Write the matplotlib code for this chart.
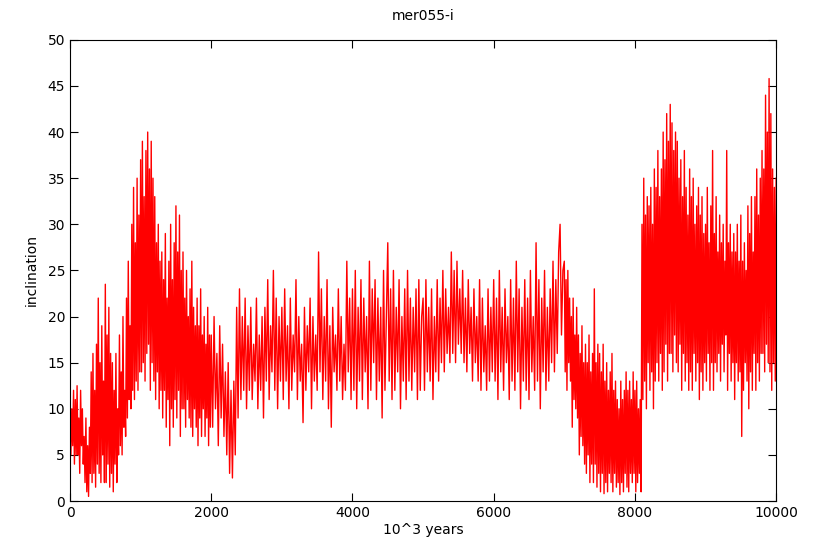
import matplotlib
matplotlib.use("Agg")
import matplotlib.pyplot as plt
import numpy as np

# inclination values
# 0-2000: one value every 12.5 (10^3 years)
seg0 = [8, 5, 10, 6, 12, 4, 11, 5, 12.5, 5, 9, 3, 12, 6, 10, 4,
        7, 2, 9, 1, 6, 0.5, 8, 3, 14, 2, 16, 3, 12, 1.5, 17, 4,
        22, 3, 15, 2, 19, 5, 13, 2, 23.5, 2, 18, 4, 21, 1.5, 16, 3,
        15, 1, 12, 4, 16, 2, 10, 5, 18, 6, 14, 5, 20, 8, 12, 7,
        22, 9, 26, 11, 19, 10, 30, 12, 34, 11, 28, 13, 35, 12, 31, 14]
seg1 = [37, 14, 39, 15, 33, 13, 38, 16, 40, 17, 36, 12, 39, 15, 35, 13,
        33, 11, 28, 14, 30, 10, 26, 12, 27, 9, 24, 12, 29, 8, 22, 11,
        26, 6, 30, 10, 24, 8, 28, 11, 32, 9, 27, 12, 31, 7, 25, 10,
        27, 10, 22, 8, 25, 11, 20, 9, 23, 8, 26, 7, 21, 10, 19, 8,
        22, 6, 19, 9, 23, 7, 18, 10, 20, 7, 17, 9, 21, 6, 18, 8]
# 2000-7000: one value every 20
seg2 = [18, 8, 20, 10, 16, 6, 19, 9, 17, 7,
        14, 5, 15, 3, 12, 2.5, 13, 5,
        21, 9, 23, 11, 20, 12, 22,
        10, 19, 12, 21, 11, 17, 13, 22, 10, 18, 12, 20, 9, 21, 13,
        24, 11, 19, 14, 25, 12, 22, 10, 20, 13]
seg3 = [21, 11, 23, 13, 19, 10, 22, 12, 18, 14,
        24, 11, 20, 13, 17, 8.5, 21, 12, 19, 14,
        22, 10, 20, 13, 18, 12, 27, 14, 23, 11,
        20, 13, 24, 10, 19, 8, 21, 14, 18, 12,
        23, 13, 20, 11, 17, 12, 26, 14, 22, 11]
seg4 = [23, 12, 25, 10, 21, 13, 24, 11, 22, 14,
        20, 10, 26, 12, 23, 15, 24, 11, 22, 13,
        21, 9, 25, 12, 20, 28, 13, 23, 11, 25,
        12, 21, 14, 24, 10, 20, 13, 23, 11, 25,
        13, 22, 12, 21, 14, 23, 11, 24, 12, 20]
seg5 = [22, 12, 24, 14, 21, 13, 23, 11, 20, 14,
        24, 13, 22, 15, 25, 14, 23, 16, 21, 15,
        27, 16, 25, 15, 26, 17, 23, 16, 25, 15,
        22, 14, 24, 16, 21, 13, 23, 15, 20, 13,
        24, 12, 22, 14, 19, 12, 23, 13, 21, 14]
seg6 = [24, 13, 22, 11, 25, 14, 21, 12, 23, 15,
        20, 11, 24, 13, 22, 12, 26, 14, 23, 10,
        21, 13, 24, 12, 22, 11, 25, 14, 20, 12,
        28, 13, 24, 10, 22, 14, 25, 12, 21, 13,
        23, 15, 26, 14, 24, 16, 27, 30, 18, 25]
# 7000-10000: one value every 12.5
seg7 = [26, 14, 24, 12, 25, 15, 22, 13, 20, 8, 22, 11, 18, 10, 21, 9,
        18, 5, 16, 7, 19, 6, 15, 4, 17, 3, 15, 5, 18, 2, 14, 4,
        16, 2, 23, 4, 15, 1.5, 17, 3, 16, 1, 14, 3, 17, 0.8, 13, 2,
        15, 1, 12, 3, 14, 2, 16, 1, 12, 3, 13, 1.5, 11, 2, 10, 0.7,
        13, 2, 11, 1, 12, 3, 14, 1.5, 12, 1, 13, 3, 11, 2, 14, 3]
seg8 = [12, 1, 13, 2, 10, 3, 11, 1, 30, 11, 35, 13, 31, 10, 33, 15,
        32, 12, 34, 14, 30, 10, 36, 13, 34, 15, 38, 13, 33, 16, 36, 12,
        40, 14, 37, 17, 42, 13, 39, 16, 43, 16, 41, 14, 38, 18, 40, 15,
        39, 14, 35, 17, 37, 12, 33, 16, 38, 13, 34, 15, 31, 12, 36, 14,
        33, 12, 35, 16, 30, 13, 32, 15, 34, 11, 31, 14, 33, 12, 29, 15]
seg9 = [30, 13, 34, 16, 28, 12, 32, 15, 38, 12, 29, 15, 33, 14, 27, 16,
        31, 13, 28, 17, 30, 14, 26, 18, 38, 12, 28, 16, 30, 13, 27, 15,
        29, 11, 27, 15, 30, 13, 26, 14, 31, 7, 26, 12, 28, 15, 25, 13,
        32, 10, 29, 14, 33, 12, 27, 16, 33, 12, 36, 15, 31, 13, 35, 16,
        38, 16, 36, 14, 44, 17, 40, 15, 45.8, 14, 42, 12, 36, 15, 34, 13, 35]

first = seg0 + seg1
mid = seg2 + seg3 + seg4 + seg5 + seg6
end = seg7 + seg8 + seg9

incl = np.array(first + mid + end)
years = np.concatenate([np.arange(len(first)) * 12.5,
                        2000 + np.arange(len(mid)) * 20.0,
                        7000 + np.arange(len(end)) * 12.5])

xticks = [0, 2000, 4000, 6000, 8000, 10000]
yticks = [0, 5, 10, 15, 20, 25, 30, 35, 40, 45, 50]

fig = plt.figure(figsize=(8.17, 5.53), dpi=100)
ax = fig.add_axes([0.0857, 0.094, 0.8643, 0.834])

ax.plot(years, incl, color="#ff0000", linewidth=1.0)

ax.set_xlim(0, 10000)
ax.set_ylim(0, 50)
ax.set_xticks(xticks)
ax.set_yticks(yticks)
ax.tick_params(direction="in", top=True, right=True, length=6, labelsize=10, colors="black")
for s in ax.spines.values():
    s.set_linewidth(0.8)

ax.set_title("mer055-i", fontsize=10, pad=14)
ax.set_xlabel("10^3 years", fontsize=10, labelpad=2)
ax.set_ylabel("inclination", fontsize=10, labelpad=6)

plt.savefig("out.png", dpi=100)
